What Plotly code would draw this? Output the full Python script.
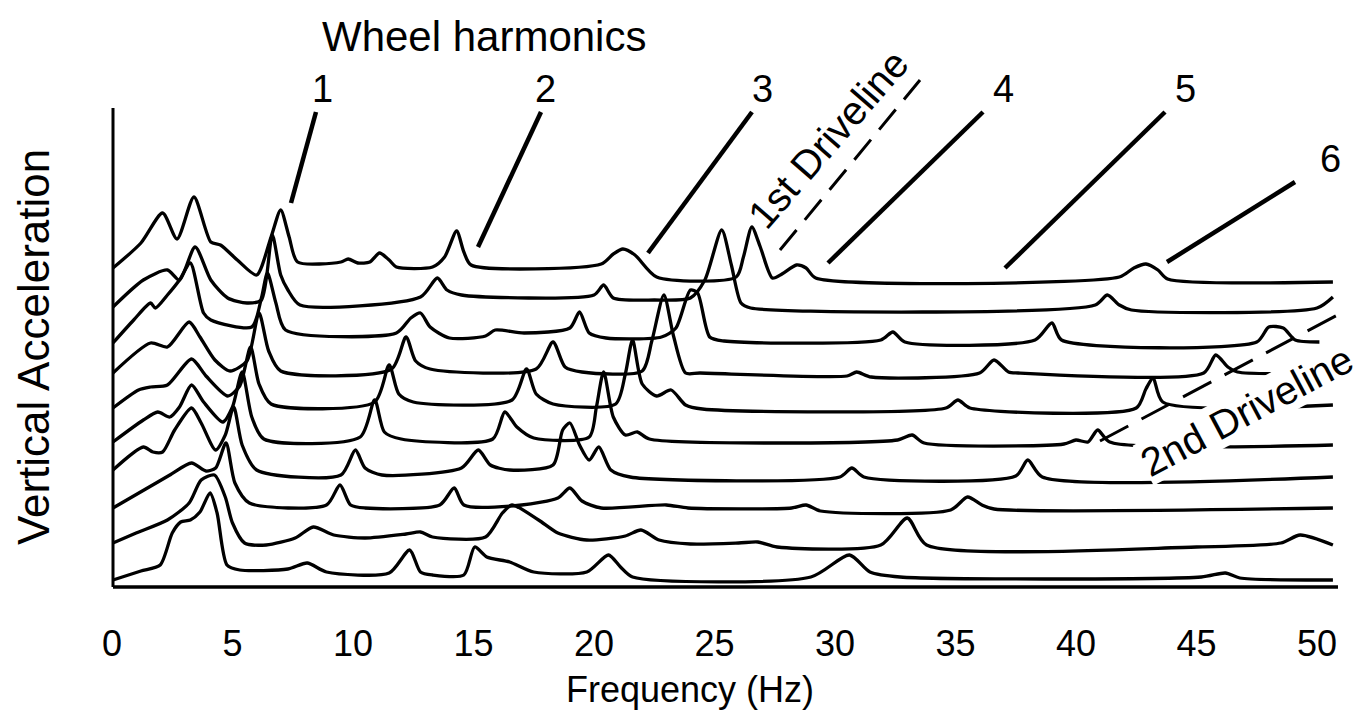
import plotly.graph_objects as go

# Waterfall of vertical-acceleration spectra, one trace per vehicle speed (lowest speed at the bottom).
# Frequencies in Hz, amplitudes in arbitrary units above each trace's own baseline.

speed_1_freq = [0.04, 1.2, 2.0, 2.5, 2.85, 3.25, 3.65, 4.07, 4.36, 4.77, 5.3, 7.3, 8.1, 8.9, 11.5, 12.35, 12.8, 13.3, 14.6, 15.05, 15.55, 16.5, 17.5, 19.7, 20.6, 21.1, 21.6, 29.0, 30.6, 31.45, 32.7, 45.2, 46.2, 46.8, 50.66]
speed_1_amp = [-1, 8, 14, 46, 57, 59, 67, 86, 66, 14, 9, 10, 16, 7, 6, 29, 7, 4, 4, 32, 22, 17, 7, 7, 24, 12, 2, 2, 24, 7, 2, 2, 6, 1, -1]

speed_2_freq = [0.04, 1.0, 2.3, 3.2, 3.7, 4.25, 4.7, 5.0, 5.5, 6.4, 7.6, 8.35, 9.2, 10.5, 12.2, 12.8, 13.3, 15.5, 16.2, 16.6, 17.7, 18.5, 19.7, 21.3, 21.95, 22.7, 24.0, 26.0, 26.8, 27.6, 31.9, 33.0, 33.8, 45.0, 48.5, 49.3, 50.66]
speed_2_amp = [3, 13, 26, 43, 66, 71, 49, 23, 3, 1, 8, 19, 11, 8, 12, 14, 9, 9, 33, 41, 26, 13, 6, 10, 16, 6, 2, 3, 4, -1, 1, 28, 1, -1, 3, 11, 1]

speed_3_freq = [0.04, 1.4, 2.4, 3.3, 3.9, 4.3, 4.73, 5.1, 5.7, 8.9, 9.46, 9.9, 10.5, 13.6, 14.2, 14.6, 17.0, 18.5, 19.0, 19.5, 20.3, 23.0, 23.9, 28.2, 28.8, 29.4, 34.8, 35.5, 36.1, 36.6, 50.66]
speed_3_amp = [5, 24, 38, 50, 42, 45, 70, 30, 10, 8, 28, 8, 5, 8, 25, 8, 8, 15, 25, 12, 5, 8, 5, 5, 8, 2, 3, 16, 8, 4, 5]

speed_4_freq = [0.04, 1.3, 1.7, 2.1, 2.6, 3.3, 3.7, 4.3, 4.7, 5.05, 5.4, 6.0, 9.5, 10.1, 10.5, 11.2, 14.5, 15.2, 15.7, 16.5, 18.3, 18.7, 19.0, 19.4, 19.8, 20.2, 20.7, 21.5, 30.2, 30.7, 31.2, 37.5, 38.0, 38.6, 50.66]
speed_4_amp = [10, 33, 28, 28, 50, 72, 57, 30, 45, 73, 35, 10, 5, 30, 12, 5, 12, 30, 15, 10, 15, 50, 57, 35, 20, 33, 10, 3, 3, 12, 3, 4, 20, 3, 3]

speed_5_freq = [0.04, 1.3, 1.9, 2.4, 2.8, 3.3, 3.8, 4.6, 5.0, 5.4, 5.8, 6.3, 10.3, 10.9, 11.3, 12.0, 15.8, 16.3, 16.8, 17.5, 19.8, 20.1, 20.4, 20.8, 21.3, 21.8, 22.3, 32.6, 33.2, 33.7, 39.5, 40.0, 40.5, 40.9, 41.4, 50.66]
speed_5_amp = [5, 27, 35, 30, 40, 62, 45, 25, 40, 75, 30, 8, 10, 47, 15, 8, 8, 35, 20, 9, 10, 40, 75, 30, 12, 15, 8, 7, 12, 4, 3, 7, 5, 17, 5, 2]

speed_6_freq = [0.04, 1.1, 1.6, 2.3, 3.3, 3.9, 4.8, 5.3, 5.75, 6.1, 6.6, 10.9, 11.5, 11.9, 12.5, 16.6, 17.2, 17.6, 18.3, 20.9, 21.3, 21.6, 22.0, 22.6, 23.2, 23.8, 24.5, 34.6, 35.1, 35.6, 42.5, 42.9, 43.2, 43.6, 50.66]
speed_6_amp = [6, 24, 27, 29, 55, 38, 18, 28, 67, 30, 10, 12, 49, 20, 12, 14, 45, 20, 10, 10, 40, 74, 30, 18, 24, 9, 5, 6, 14, 6, 6, 25, 36, 12, 9]

speed_7_freq = [0.04, 1.6, 2.3, 3.2, 3.65, 4.27, 4.9, 5.6, 6.1, 6.5, 7.0, 11.6, 12.2, 12.6, 13.2, 17.6, 18.3, 18.8, 19.5, 22.0, 22.4, 22.9, 23.3, 23.8, 24.4, 30.5, 30.9, 31.5, 36.0, 36.6, 37.2, 37.6, 45.3, 45.8, 46.3, 46.7, 50.66]
speed_7_amp = [8, 38, 34, 59, 44, 21, 10, 20, 68, 30, 10, 12, 44, 20, 12, 12, 39, 14, 9, 10, 40, 86, 45, 8, 8, 5, 9, 4, 8, 21, 9, 8, 8, 26, 14, 9, 8]

speed_8_freq = [0.04, 0.9, 1.6, 1.8, 2.3, 2.8, 3.25, 3.8, 4.1, 5.8, 6.2, 6.45, 6.8, 7.2, 11.8, 12.4, 12.8, 13.2, 14.0, 15.5, 15.9, 17.1, 19.0, 19.4, 19.8, 20.5, 22.8, 23.4, 24.0, 24.3, 24.8, 25.4, 31.9, 32.4, 32.9, 38.3, 39.0, 39.4, 47.5, 48.0, 48.6, 49.1, 50.1]
speed_8_amp = [5, 28, 45, 40, 53, 68, 85, 35, 28, 21, 50, 75, 45, 18, 15, 30, 35, 21, 10, 12, 18, 15, 20, 36, 15, 10, 11, 20, 58, 55, 11, 7, 8, 16, 6, 8, 25, 8, 6, 21, 20, 8, 6]

speed_9_freq = [0.04, 1.3, 2.3, 2.8, 3.45, 4.1, 4.8, 5.6, 6.2, 6.65, 7.0, 7.3, 7.8, 12.8, 13.5, 13.9, 14.5, 20.0, 20.4, 20.8, 22.5, 24.0, 24.6, 25.3, 25.7, 26.1, 26.5, 40.8, 41.3, 41.8, 42.3, 50.0, 50.66]
speed_9_amp = [8, 35, 45, 35, 68, 35, 17, 12, 15, 80, 40, 25, 10, 18, 37, 25, 20, 20, 30, 17, 15, 17, 35, 85, 50, 12, 7, 10, 20, 10, 5, 7, 18]

speed_10_freq = [0.04, 1.2, 2.1, 2.7, 3.4, 4.1, 4.5, 5.2, 6.0, 6.6, 7.0, 7.35, 7.7, 9.5, 9.8, 10.2, 10.7, 11.1, 11.5, 11.8, 13.3, 13.8, 14.3, 14.6, 14.9, 20.3, 20.8, 21.2, 21.7, 22.6, 25.9, 26.2, 26.55, 26.9, 27.4, 27.8, 28.4, 28.8, 29.2, 41.8, 42.4, 42.9, 43.4, 43.8, 50.66]
speed_10_amp = [14, 39, 69, 43, 85, 40, 37, 22, 7, 45, 72, 45, 20, 20, 23, 19, 20, 29, 22, 15, 15, 25, 51, 30, 17, 18, 28, 33, 27, 5, 5, 25, 55, 35, 4, 8, 17, 14, 4, 5, 14, 18, 12, 3, 0]

spectra = [
    (speed_1_freq, speed_1_amp), (speed_2_freq, speed_2_amp), (speed_3_freq, speed_3_amp),
    (speed_4_freq, speed_4_amp), (speed_5_freq, speed_5_amp), (speed_6_freq, speed_6_amp),
    (speed_7_freq, speed_7_amp), (speed_8_freq, speed_8_amp), (speed_9_freq, speed_9_amp),
    (speed_10_freq, speed_10_amp),
]

freq_ticks = [0, 5, 10, 15, 20, 25, 30, 35, 40, 45, 50]
harmonic_labels = ["1", "2", "3", "4", "5", "6"]

# ---- layout constants (one axis unit on y == one pixel, 24.1 px per Hz on x) ----
PX_PER_HZ = 24.1
STACK_STEP = 33.0      # vertical spacing between successive spectra
STACK_BASE = 8.0       # lowest spectrum sits just above the frequency axis
W, H = 1360, 714
LEFT, BOTTOM = 88, 117
PLOT_W, PLOT_H = W - LEFT, H - BOTTOM
X0 = -(112 - LEFT) / PX_PER_HZ
X1 = X0 + PLOT_W / PX_PER_HZ
Y0 = -10.0
Y1 = Y0 + PLOT_H


def hz(px):
    return (px - 112) / PX_PER_HZ


def lvl(py):
    return 587 - py


def paper_x(px):
    return (px - LEFT) / PLOT_W


def paper_y(py):
    return (PLOT_H - py) / PLOT_H


FONT = "Liberation Sans, Arial, Helvetica, sans-serif"
INK = "black"

fig = go.Figure()
for k, (fr, am) in enumerate(spectra):
    off = STACK_BASE + STACK_STEP * k
    fig.add_trace(go.Scatter(
        x=fr, y=[off + a for a in am], mode="lines",
        line=dict(color=INK, width=3.3, shape="spline", smoothing=0.7),
        hoverinfo="skip", showlegend=False,
    ))

shapes = []
# axis spines
shapes.append(dict(type="line", xref="x", yref="y", x0=hz(113), x1=hz(113), y0=lvl(587), y1=lvl(108),
                   line=dict(color=INK, width=3)))
shapes.append(dict(type="line", xref="x", yref="y", x0=hz(113), x1=hz(1338), y0=lvl(587), y1=lvl(587),
                   line=dict(color=INK, width=3.3)))

# wheel-harmonic leader lines
leaders = [((316, 112), (291, 203)), ((541, 112), (478, 247)), ((752, 112), (648, 253)),
           ((983, 112), (828, 263)), ((1165, 112), (1005, 268)), ((1295, 182), (1167, 262))]
for (xa, ya), (xb, yb) in leaders:
    shapes.append(dict(type="line", xref="x", yref="y", x0=hz(xa), y0=lvl(ya), x1=hz(xb), y1=lvl(yb),
                       line=dict(color=INK, width=4.5)))

# driveline order lines (dashed)
shapes.append(dict(type="line", xref="x", yref="y", x0=hz(780), y0=lvl(250), x1=hz(920), y1=lvl(80),
                   line=dict(color=INK, width=3, dash="26px,13px")))
shapes.append(dict(type="line", xref="x", yref="y", x0=hz(1100), y0=lvl(441), x1=hz(1343), y1=lvl(312),
                   line=dict(color=INK, width=3, dash="32px,15px")))


def label(txt, px, py, size, angle=0, **extra):
    return dict(x=paper_x(px), y=paper_y(py), xref="paper", yref="paper", text=txt,
                xanchor="center", yanchor="middle", showarrow=False, textangle=angle,
                font=dict(family=FONT, size=size, color=INK), **extra)


annotations = [label("Wheel harmonics", 484, 36, 42)]
label_pos = [(322, 89), (545, 89), (762, 89), (1003, 89), (1185, 89), (1330, 159)]
for txt, (px, py) in zip(harmonic_labels, label_pos):
    annotations.append(label(txt, px, py, 38))
annotations.append(label("1st Driveline", 828, 139, 40, angle=-49))
annotations.append(label("2nd Driveline", 1246, 411, 40, angle=-28, bgcolor="white", borderpad=0))
annotations.append(label("Vertical Acceleration", 33, 347, 44, angle=-90))
annotations.append(label("Frequency (Hz)", 690, 690, 36))

fig.update_layout(
    width=W, height=H, margin=dict(l=LEFT, r=0, t=0, b=BOTTOM, pad=0),
    paper_bgcolor="white", plot_bgcolor="white",
    shapes=shapes, annotations=annotations,
    xaxis=dict(range=[X0, X1], showgrid=False, zeroline=False, showline=False,
               tickmode="array", tickvals=freq_ticks, ticktext=[str(v) for v in freq_ticks],
               ticks="", ticklabelstandoff=22, tickfont=dict(family=FONT, size=36, color=INK)),
    yaxis=dict(range=[Y0, Y1], showgrid=False, zeroline=False, showline=False, showticklabels=False, ticks=""),
)

fig.write_html("out.html")
